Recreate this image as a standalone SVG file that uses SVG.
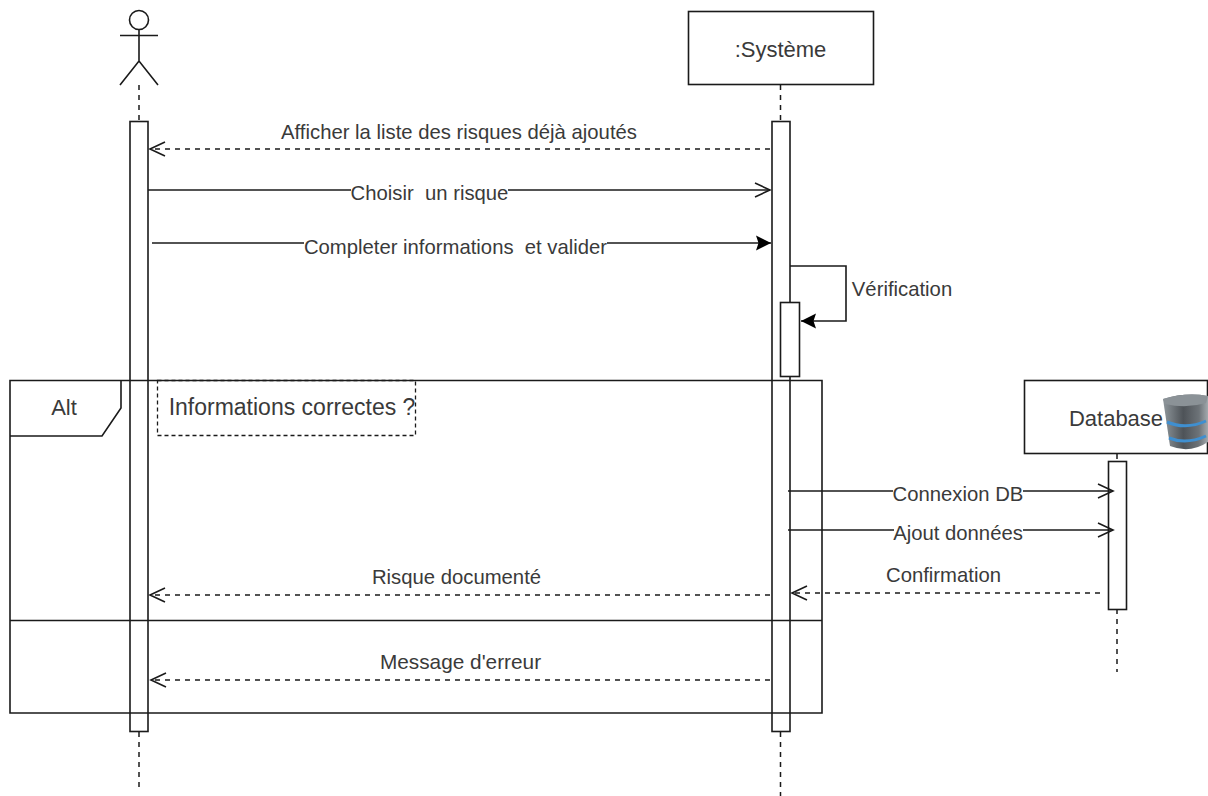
<svg xmlns="http://www.w3.org/2000/svg" width="1208" height="796" viewBox="0 0 1208 796">
<style>
.s{fill:none;stroke:#1a1a1a;stroke-width:1.6}
.b{fill:#fff;stroke:#1a1a1a;stroke-width:1.6}
.d{fill:none;stroke:#1a1a1a;stroke-width:1.5;stroke-dasharray:5 5}
.m{fill:none;stroke:#1a1a1a;stroke-width:1.6}
.ma{marker-end:url(#open)}
.mf{marker-end:url(#fill)}
text{font-family:"Liberation Sans",Arial,sans-serif;font-size:20.3px;fill:#3a3a3a;text-anchor:middle}
.big{font-size:22px}
.bg{fill:#fff}
</style>
<defs>
<marker id="open" markerUnits="userSpaceOnUse" markerWidth="20" markerHeight="20" refX="16" refY="8" orient="auto" viewBox="0 0 20 16"><path d="M1 1L16 8L1 15" fill="none" stroke="#1a1a1a" stroke-width="1.6"/></marker>
<marker id="fill" markerUnits="userSpaceOnUse" markerWidth="16" markerHeight="16" refX="15" refY="8" orient="auto" viewBox="0 0 16 16"><path d="M0 0.500L15 8L0 15.500L2.500 8Z" fill="#000"/></marker>
<linearGradient id="cyl" x1="0" x2="1" y1="0" y2="0"><stop offset="0" stop-color="#8f979c"/><stop offset=".45" stop-color="#4e5358"/><stop offset=".8" stop-color="#6d7378"/><stop offset="1" stop-color="#a4aaae"/></linearGradient>
</defs>
<g id="lifelines">
<path class="d" d="M139 85V121M139 732V790M780.500 85V121M780.500 732V796M1117 454V461M1117 609V672"/>
</g>
<g id="actor">
<circle class="s" cx="139" cy="20" r="9.500"/>
<path class="s" d="M139 30V61M120 35.500H158M120 85L139 61L158 85"/>
</g>
<g id="system">
<rect class="b" x="688.500" y="11.500" width="185" height="73"/>
<text class="big" x="780.500" y="57">:Système</text>
</g>
<g id="database">
<rect class="b" x="1024.500" y="380.500" width="183" height="73"/>
<text class="big" x="1116" y="426">Database</text>
<path d="M1163 399Q1186 392 1208 396V442Q1190 454 1170 446Z" fill="url(#cyl)"/>
<path d="M1163 399Q1186 392 1208 396L1206 403Q1186 409 1165 404Z" fill="#8b9297"/>
<path d="M1167 422Q1186 430 1206 421M1169 438Q1186 445 1206 436" fill="none" stroke="#3f8fd0" stroke-width="3"/>
</g>
<g id="act-actor"><rect class="b" x="130" y="121.500" width="18" height="610"/></g>
<g id="act-system"><rect class="b" x="772" y="121.500" width="18" height="610"/></g>
<g id="act-verif"><rect class="b" x="780.500" y="302.500" width="19" height="74"/></g>
<g id="act-db"><rect class="b" x="1108.500" y="461.500" width="18" height="148"/></g>
<g id="alt-frame">
<path class="s" d="M10 380.500H822V713H10ZM10 620.500H822M121 380.500V408L102 436H10"/>
<rect x="157.500" y="380.500" width="258" height="55" fill="none" stroke="#1a1a1a" stroke-width="1.300" stroke-dasharray="4 3"/>
<text class="big" x="64" y="415">Alt</text>
<text x="292" y="415" style="font-size:23px">Informations correctes ?</text>
</g>
<g id="connectors">
<path class="d ma" d="M770 149H150"/>
<path class="m ma" d="M148 190H770"/>
<path class="m mf" d="M152 243H771"/>
<path class="m mf" d="M790 266H846V321H801"/>
<path class="m ma" d="M788 491H1113"/>
<path class="m ma" d="M788 530H1113"/>
<path class="d ma" d="M1100 593H792"/>
<path class="d ma" d="M770 595H150"/>
<path class="d ma" d="M770 680H151"/>
</g>
<g id="labels">
<text x="459" y="139">Afficher la liste des risques déjà ajoutés</text>
<rect class="bg" x="351" y="182" width="157" height="18"/>
<text x="429.500" y="200" xml:space="preserve">Choisir  un risque</text>
<rect class="bg" x="304" y="235" width="303" height="18"/>
<text x="455.500" y="254" xml:space="preserve">Completer informations  et valider</text>
<text x="902" y="296">Vérification</text>
<rect class="bg" x="893" y="483" width="130" height="18"/>
<text x="958" y="501">Connexion DB</text>
<rect class="bg" x="894" y="523" width="129" height="18"/>
<text x="958" y="540">Ajout données</text>
<text x="943.500" y="582">Confirmation</text>
<text x="456.500" y="584">Risque documenté</text>
<text x="460.500" y="669" style="font-size:20.8px">Message d'erreur</text>
</g>
</svg>
